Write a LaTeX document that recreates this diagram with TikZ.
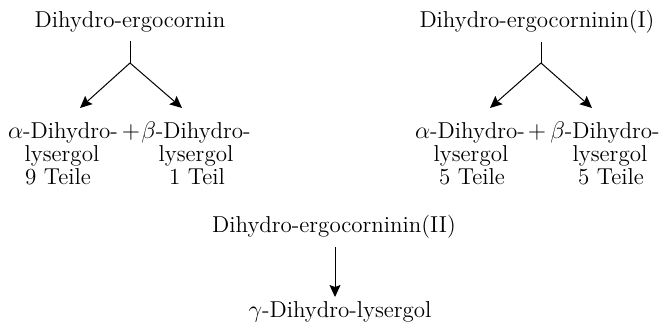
\documentclass[tikz,border=0pt]{standalone}
\usetikzlibrary{arrows.meta}
\begin{document}
\begin{tikzpicture}[x=0.5pt,y=-0.5pt,
  lbl/.style={inner sep=0pt, anchor=base, font=\fontsize{11.5}{12.3}\selectfont},
  conn/.style={line width=0.5pt},
  arr/.style={conn,-{Stealth[length=6pt,width=5.5pt,inset=1pt]}}]
\useasboundingbox (0,0) rectangle (663,324);
% top left
\node[lbl] (A) at (130,28) {Dihydro-ergocornin};
\coordinate (sA) at (130,63);
\coordinate (tA1) at (80,108);
\coordinate (tA2) at (182,108);
\node[lbl] (a1) at (63,139) {$\alpha$-Dihydro-};
\node[lbl] (a2) at (62,162) {lysergol};
\node[lbl] (a3) at (58,185) {9 Teile};
\node[lbl] (p1) at (131,139) {$+$};
\node[lbl] (b1) at (196,139) {$\beta$-Dihydro-};
\node[lbl] (b2) at (196,162) {lysergol};
\node[lbl] (b3) at (197,185) {1 Teil};
\draw[conn] ([yshift=-4pt]A.south) -- (sA);
\draw[arr] (sA) -- (tA1);
\draw[arr] (sA) -- (tA2);
% top right
\node[lbl] (B) at (537,28) {Dihydro-ergocorninin(I)};
\coordinate (sB) at (541,63);
\coordinate (tB1) at (490,108);
\coordinate (tB2) at (592,108);
\node[lbl] (c1) at (470,139) {$\alpha$-Dihydro-};
\node[lbl] (c2) at (471,162) {lysergol};
\node[lbl] (c3) at (472,185) {5 Teile};
\node[lbl] (p2) at (537,139) {$+$};
\node[lbl] (d1) at (605,139) {$\beta$-Dihydro-};
\node[lbl] (d2) at (610,162) {lysergol};
\node[lbl] (d3) at (611,185) {5 Teile};
\draw[conn] ([xshift=2pt,yshift=-4pt]B.south) -- (sB);
\draw[arr] (sB) -- (tB1);
\draw[arr] (sB) -- (tB2);
% bottom
\node[lbl] (C) at (334,233) {Dihydro-ergocorninin(II)};
\node[lbl] (G) at (340,318) {$\gamma$-Dihydro-lysergol};
\coordinate (tC) at (335,297);
\draw[arr] ([xshift=0.5pt,yshift=-4pt]C.south) -- (tC);
\end{tikzpicture}
\end{document}
